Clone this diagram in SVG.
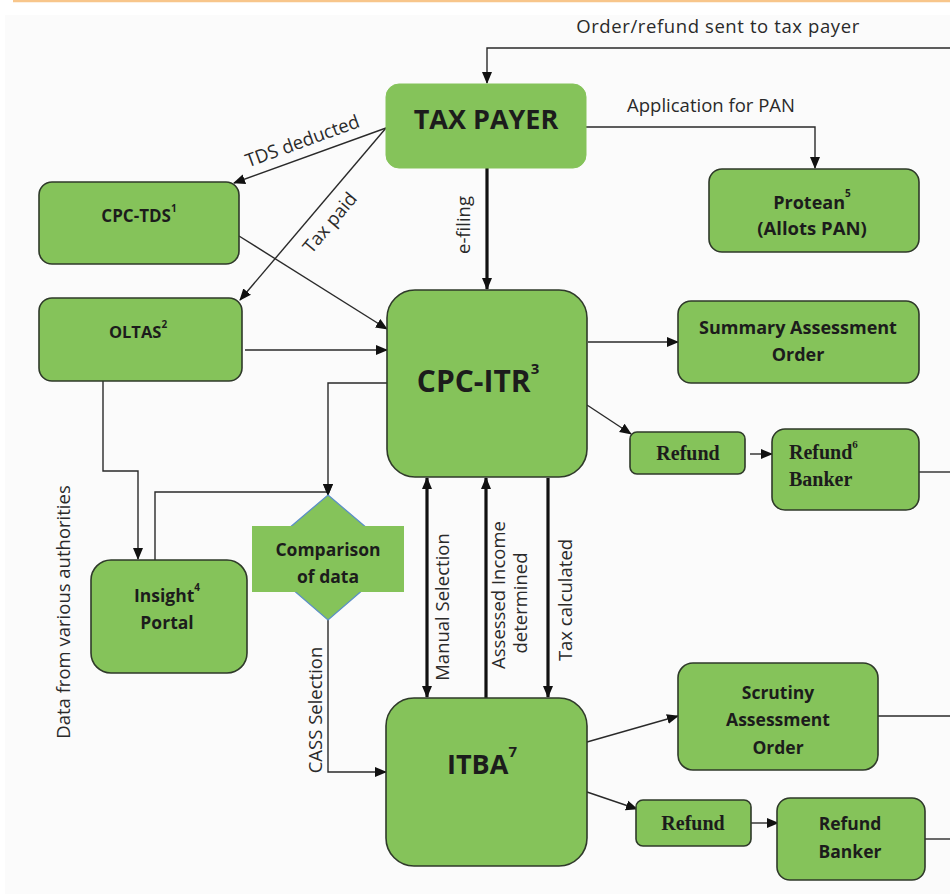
<svg xmlns="http://www.w3.org/2000/svg" width="950" height="894" viewBox="0 0 950 894">
<style>
.box{fill:#85c35a;stroke:#2f3a2a;stroke-width:1.6}
.nob{fill:#85c35a;stroke:#85c35a;stroke-width:1}
.t{font-family:"Open Sans","Liberation Sans",sans-serif;font-weight:bold;fill:#1c1c1c;text-anchor:middle;dominant-baseline:central}
.s{font-family:"Liberation Serif",serif;font-weight:bold;fill:#1c1c1c;dominant-baseline:central}
.lbl{font-family:"Open Sans","Liberation Sans",sans-serif;fill:#2a2a2a;text-anchor:middle;dominant-baseline:central;font-size:18.5px}
.c{fill:none;stroke:#2a2a2a;stroke-width:1.4}
.k{fill:none;stroke:#111;stroke-width:3.2}
</style>
<defs>
<marker id="a" markerUnits="userSpaceOnUse" markerWidth="12" markerHeight="12" refX="11" refY="6" orient="auto"><path d="M0,1 L12,6 L0,11 z" fill="#111"/></marker>
<marker id="as" markerUnits="userSpaceOnUse" markerWidth="12" markerHeight="12" refX="1" refY="6" orient="auto"><path d="M12,1 L0,6 L12,11 z" fill="#111"/></marker>
</defs>
<rect x="0" y="0" width="950" height="894" fill="#ffffff"/>
<rect x="5" y="15" width="945" height="879" fill="#fbfbfb"/>
<line x1="13" y1="1" x2="950" y2="1" stroke="#f8c68b" stroke-width="2.5"/>

<g id="connectors">
<path class="c" d="M950,48 H487 V83" marker-end="url(#a)"/>
<path class="c" d="M586,127 H815 V168" marker-end="url(#a)"/>
<path class="c" d="M386,128 L234,183" marker-end="url(#a)"/>
<path class="c" d="M386,128 L240,300" marker-end="url(#a)"/>
<path class="k" d="M487,168 V289" marker-end="url(#a)"/>
<path class="c" d="M239,236 L387,329" marker-end="url(#a)"/>
<path class="c" d="M245,350 H387" marker-end="url(#a)"/>
<path class="c" d="M103,381 V471 H138 V559" marker-end="url(#a)"/>
<path class="c" d="M155,560 V492 H328 V495" marker-end="url(#a)"/>
<path class="c" d="M387,383 H328 V495" marker-end="url(#a)"/>
<path class="c" d="M328,620 V772 H386" marker-end="url(#a)"/>
<path class="k" d="M427,478 V697" marker-start="url(#as)" marker-end="url(#a)"/>
<path class="k" d="M486,698 V478" marker-end="url(#a)"/>
<path class="k" d="M548,478 V697" marker-end="url(#a)"/>
<path class="c" d="M588,342 H678" marker-end="url(#a)"/>
<path class="c" d="M587,405 L631,434" marker-end="url(#a)"/>
<path class="c" d="M750,454 H772" marker-end="url(#a)"/>
<path class="c" d="M919,472 H950"/>
<path class="c" d="M587,742 L678,716" marker-end="url(#a)"/>
<path class="c" d="M587,792 L637,809" marker-end="url(#a)"/>
<path class="c" d="M751,823 H778" marker-end="url(#a)"/>
<path class="c" d="M878,716 H950"/>
<path class="c" d="M925,839 H950"/>
<text class="lbl" x="718" y="25" font-size="19" letter-spacing="0.6">Order/refund sent to tax payer</text>
<text class="lbl" x="711" y="104" font-size="19.5">Application for PAN</text>
<text class="lbl" transform="translate(302,140) rotate(-20)">TDS deducted</text>
<text class="lbl" transform="translate(329,222) rotate(-50)">Tax paid</text>
<text class="lbl" transform="translate(462,225) rotate(-90)">e-filing</text>
<text class="lbl" transform="translate(441,607) rotate(-90)">Manual Selection</text>
<text class="lbl" transform="translate(497,595) rotate(-90)">Assessed Income</text>
<text class="lbl" transform="translate(519,603) rotate(-90)">determined</text>
<text class="lbl" transform="translate(564,600) rotate(-90)" font-size="17.5">Tax calculated</text>
<text class="lbl" transform="translate(314,710) rotate(-90)">CASS Selection</text>
<text class="lbl" transform="translate(62,612) rotate(-90)" font-size="20">Data from various authorities</text>
</g>

<g id="taxpayer">
<rect class="nob" x="386" y="84" width="200" height="84" rx="13"/>
<text class="t" x="486" y="118" font-size="27">TAX PAYER</text>
</g>
<g id="protean">
<rect class="box" x="709" y="169" width="210" height="83" rx="13"/>
<text class="t" x="812" y="202" font-size="18">Protean<tspan font-size="10" dy="-9">5</tspan></text>
<text class="t" x="812" y="227" font-size="18.5">(Allots PAN)</text>
</g>
<g id="cpctds">
<rect class="box" x="39" y="182" width="200" height="82" rx="13"/>
<text class="t" x="139" y="215" font-size="17">CPC-TDS<tspan font-size="10" dy="-7">1</tspan></text>
</g>
<g id="oltas">
<rect class="box" x="39" y="298" width="203" height="83" rx="13"/>
<text class="t" x="138" y="331" font-size="16.5">OLTAS<tspan font-size="10" dy="-7">2</tspan></text>
</g>
<g id="cpcitr">
<rect class="box" x="387" y="290" width="200" height="187" rx="28"/>
<text class="t" x="478" y="380" font-size="30">CPC-ITR<tspan font-size="15" dy="-12">3</tspan></text>
</g>
<g id="summary">
<rect class="box" x="678" y="301" width="241" height="82" rx="13"/>
<text class="t" x="798" y="327" font-size="18">Summary Assessment</text>
<text class="t" x="798" y="354" font-size="18">Order</text>
</g>
<g id="refund1">
<rect class="box" x="630" y="432" width="115" height="42" rx="7"/>
<text class="s" x="688" y="453" font-size="20" text-anchor="middle">Refund</text>
</g>
<g id="refundbanker1">
<rect class="box" x="772" y="429" width="147" height="81" rx="13"/>
<text class="s" x="789" y="452" font-size="20">Refund<tspan font-size="11" dy="-8">6</tspan></text>
<text class="s" x="789" y="479" font-size="20">Banker</text>
</g>
<g id="insight">
<rect class="box" x="91" y="560" width="156" height="113" rx="20"/>
<text class="t" x="167" y="595" font-size="17.5">Insight<tspan font-size="10" dy="-8">4</tspan></text>
<text class="t" x="167" y="622" font-size="17.5">Portal</text>
</g>
<g id="comparison">
<polygon points="328,495 401,557 328,620 255,557" fill="#85c35a" stroke="#5b8fc7" stroke-width="1.3"/>
<rect x="252" y="526" width="152" height="66" fill="#85c35a"/>
<text class="t" x="328" y="549" font-size="17.5">Comparison</text>
<text class="t" x="328" y="576" font-size="17.5">of data</text>
</g>
<g id="itba">
<rect class="box" x="386" y="698" width="201" height="168" rx="28"/>
<text class="t" x="482" y="763" font-size="27">ITBA<tspan font-size="15" dy="-12">7</tspan></text>
</g>
<g id="scrutiny">
<rect class="box" x="678" y="663" width="200" height="107" rx="15"/>
<text class="t" x="778" y="692" font-size="17.5">Scrutiny</text>
<text class="t" x="778" y="719" font-size="17.5">Assessment</text>
<text class="t" x="778" y="747" font-size="17.5">Order</text>
</g>
<g id="refund2">
<rect class="box" x="636" y="800" width="115" height="46" rx="7"/>
<text class="s" x="693" y="823" font-size="20" text-anchor="middle">Refund</text>
</g>
<g id="refundbanker2">
<rect class="box" x="777" y="798" width="148" height="82" rx="13"/>
<text class="t" x="850" y="823" font-size="17.5">Refund</text>
<text class="t" x="850" y="851" font-size="17.5">Banker</text>
</g>
</svg>
